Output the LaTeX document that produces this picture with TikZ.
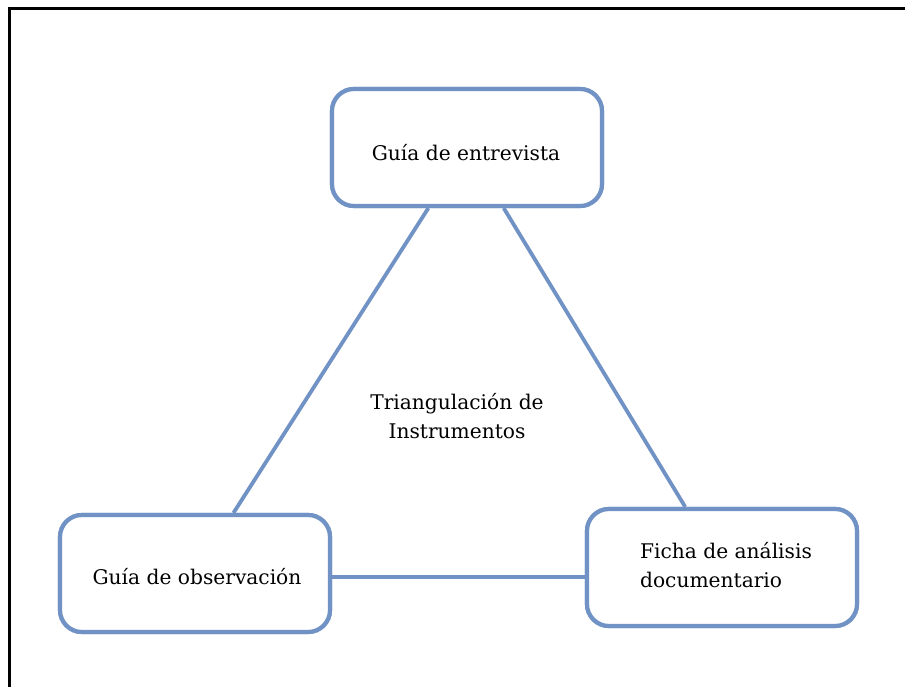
\documentclass[tikz,border=0pt]{standalone}
\usepackage{fontspec}
\setmainfont{DejaVu Serif}
\definecolor{boxblue}{RGB}{112,146,196}
\begin{document}
\begin{tikzpicture}[x=1pt,y=-1pt,
  box/.style={draw=boxblue,line width=4.2pt,rounded corners=22pt,minimum width=270pt,minimum height=117pt,inner sep=0pt,fill=white},
  link/.style={draw=boxblue,line width=3.8pt},
  lbl/.style={font=\fontsize{20.2}{29.5}\selectfont,text=black}]
\useasboundingbox (0,0) rectangle (905,687);
\fill[white] (0,0) rectangle (905,687);
\draw[line width=3pt] (9,690) -- (9,9) -- (910,9);
\node[box] (top) at (467,147.5) {};
\node[box] (left) at (195,573.5) {};
\node[box] (right) at (722,567.5) {};
\coordinate (bl) at ([yshift=-3.5pt]left.east);
\draw[link] (top) -- (left);
\draw[link] (top) -- (right);
\draw[link] (bl) -- (bl -| right.west);
\node[box] at (top) {};
\node[box] at (left) {};
\node[box] at (right) {};
\node[lbl] (ttext) at (466,153) {Guía de entrevista};
\node[lbl] (ltext) at (197,577) {Guía de observación};
\node[lbl,align=left] (rtext) at (726,565) {Ficha de análisis\\documentario};
\node[lbl,align=center] (ctext) at (457,416) {Triangulación de\\Instrumentos};
\end{tikzpicture}
\end{document}
